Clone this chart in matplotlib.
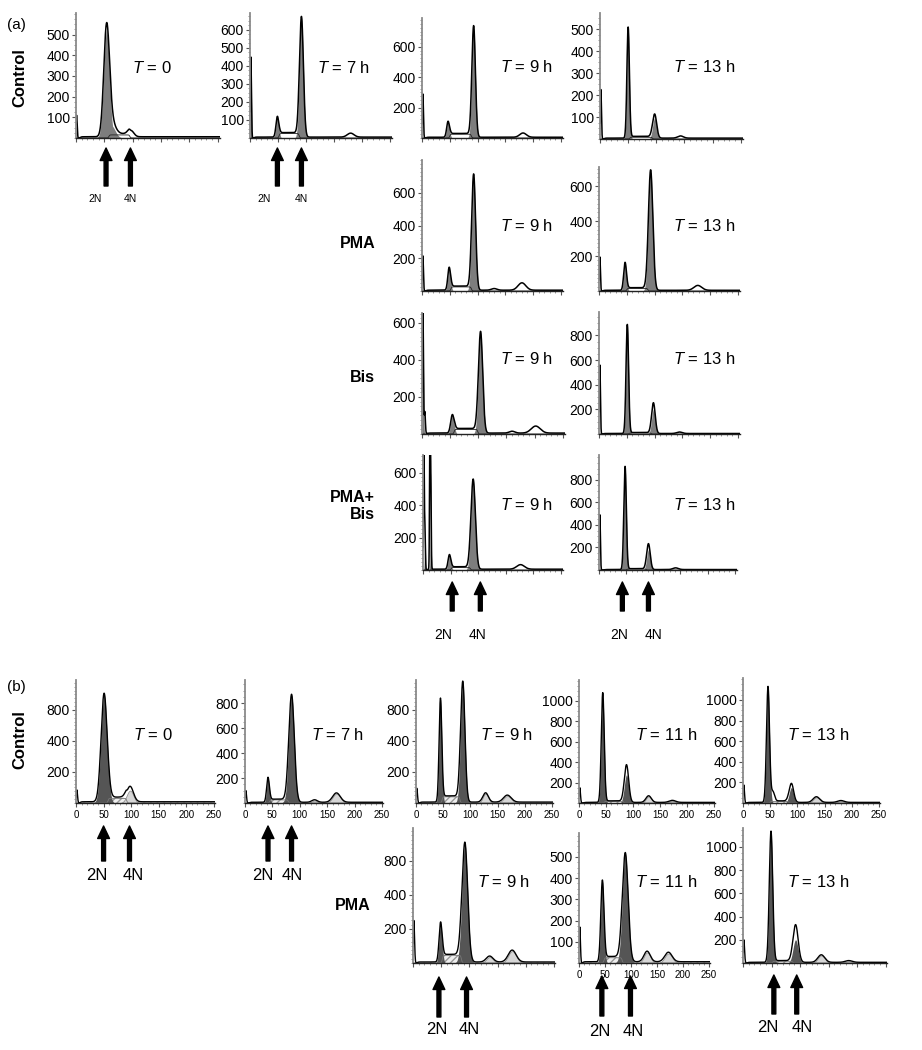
import numpy as np
import matplotlib
matplotlib.use('Agg')
import matplotlib.pyplot as plt
from matplotlib.ticker import MultipleLocator, AutoMinorLocator, FixedLocator
from matplotlib.transforms import blended_transform_factory

plt.rcParams['font.family'] = ['Liberation Sans', 'DejaVu Sans']
plt.rcParams['mathtext.fontset'] = 'custom'
plt.rcParams['mathtext.it'] = 'Liberation Sans:italic'
plt.rcParams['mathtext.rm'] = 'Liberation Sans'

# ---------------------------------------------------------------- data
# peaks: (channel, height, sigma, kind)  kind: d=debris line, g=G1/G2 fill,
#        o=outline only, l=light fill ; bg: (S start, S end, S level, tail level)
a_ctrl_0 = [(1, 110, 1.0, 'd'), (54, 520, 5.0, 'g'), (62, 60, 7, 'g'), (97, 30, 5, 'o')]
a_ctrl_0_bg = (58, 95, 15, 6)
a_ctrl_7 = [(1.5, 450, 1.0, 'g'), (49, 115, 2.5, 'g'), (92, 670, 3.5, 'g'), (180, 22, 6, 'o')]
a_ctrl_7_bg = (52, 88, 25, 5)
a_ctrl_9 = [(1.5, 290, 1.0, 'd'), (47, 105, 2.5, 'g'), (93, 735, 3.2, 'g'), (182, 28, 6, 'o')]
a_ctrl_9_bg = (50, 89, 25, 5)
a_ctrl_13 = [(1.5, 225, 1.0, 'd'), (50, 505, 2.2, 'g'), (97, 95, 3.5, 'g'), (97, 15, 4, 'o'), (143, 10, 5, 'o')]
a_ctrl_13_bg = (53, 93, 8, 4)
a_pma_9 = [(1.5, 215, 1.0, 'd'), (49, 140, 2.5, 'g'), (93, 710, 3.5, 'g'), (130, 10, 5, 'o'), (180, 45, 7, 'o')]
a_pma_9_bg = (52, 89, 25, 5)
a_pma_13 = [(1.5, 195, 1.0, 'd'), (47, 160, 2.5, 'g'), (93, 690, 4.0, 'g'), (178, 28, 7, 'o')]
a_pma_13_bg = (50, 88, 15, 4)
a_bis_9 = [(1.5, 700, 1.0, 'g'), (5, 120, 1.0, 'd'), (54, 100, 3, 'g'), (104, 550, 3.8, 'g'), (160, 10, 5, 'o'), (202, 38, 8, 'o')]
a_bis_9_bg = (57, 99, 25, 5)
a_bis_13 = [(1.5, 560, 1.0, 'd'), (51, 885, 2.3, 'g'), (98, 200, 3.2, 'g'), (98, 50, 3.5, 'o'), (145, 12, 5, 'o')]
a_bis_13_bg = (54, 94, 8, 4)
a_pb_9 = [(1.5, 800, 0.8, 'd'), (3.5, 250, 0.8, 'g'), (12.5, 800, 0.7, 'd'), (14, 600, 0.8, 'g'),
          (48, 90, 2.5, 'g'), (91, 555, 4.0, 'g'), (177, 28, 7, 'o')]
a_pb_9_bg = (51, 86, 15, 5)
a_pb_13 = [(1.5, 490, 1.0, 'd'), (48, 915, 2.3, 'g'), (91, 180, 3.2, 'g'), (91, 50, 3.5, 'o'), (141, 15, 5, 'o')]
a_pb_13_bg = (51, 87, 8, 4)

b_ctrl_0 = [(1.5, 85, 1.2, 'd'), (51, 700, 5.5, 'g'), (98, 80, 6, 'l'), (98, 20, 6, 'o')]
b_ctrl_0_bg = (58, 92, 30, 8)
b_ctrl_7 = [(1.5, 100, 1.2, 'd'), (42, 200, 2.5, 'g'), (85, 865, 5.0, 'g'), (127, 20, 5, 'l'), (167, 75, 7, 'l')]
b_ctrl_7_bg = (45, 79, 25, 6)
b_ctrl_9 = [(1.5, 95, 1.2, 'd'), (45, 670, 2.5, 'g'), (86, 780, 4.0, 'g'), (128, 60, 5, 'l'), (168, 45, 7, 'l')]
b_ctrl_9_bg = (48, 81, 40, 6)
b_ctrl_11 = [(1.5, 150, 1.2, 'd'), (44, 1075, 2.7, 'g'), (88, 275, 4.0, 'g'), (88, 95, 4, 'o'), (129, 65, 5, 'l'), (173, 20, 6, 'l')]
b_ctrl_11_bg = (47, 83, 15, 6)
b_ctrl_13 = [(1.5, 175, 1.2, 'd'), (46, 1125, 2.8, 'g'), (55, 90, 3, 'o'), (89, 150, 4.0, 'g'), (89, 35, 4.5, 'o'),
             (135, 55, 6, 'l'), (180, 18, 6, 'l')]
b_ctrl_13_bg = (50, 84, 15, 6)
b_pma_9 = [(1.5, 250, 1.2, 'd'), (49, 235, 2.7, 'g'), (92, 705, 5.0, 'g'), (136, 35, 6, 'l'), (176, 70, 7, 'l')]
b_pma_9_bg = (52, 86, 45, 6)
b_pma_11 = [(1.5, 170, 1.2, 'd'), (45, 385, 3.0, 'g'), (89, 515, 5.5, 'g'), (131, 50, 6, 'l'), (172, 45, 7, 'l')]
b_pma_11_bg = (48, 83, 25, 6)
b_pma_13 = [(1.5, 200, 1.2, 'd'), (49, 1130, 3.0, 'g'), (92, 200, 4.5, 'g'), (92, 125, 4.5, 'o'), (137, 65, 6, 'l'), (185, 15, 6, 'l')]
b_pma_13_bg = (52, 87, 15, 6)

# axis ticks
ticks_a100_500 = [100, 200, 300, 400, 500]
ticks_a100_600 = [100, 200, 300, 400, 500, 600]
ticks_200_600 = [200, 400, 600]
ticks_200_800 = [200, 400, 600, 800]
ticks_200_1000 = [200, 400, 600, 800, 1000]
ticks_100_500 = [100, 200, 300, 400, 500]
labels_200_400_800 = ['200', '400', '800']
xticks_b = [0, 50, 100, 150, 200, 250]

# ---------------------------------------------------------------- figure
W, H = 922, 1050
fig = plt.figure(figsize=(W / 100, H / 100), dpi=100)

DARK_A = '#7d7d7d'
DARK_B = '#555555'
LIGHT = '#d6d6d6'


def add_ax(x0, x1, top, base):
    return fig.add_axes([x0 / W, 1 - base / H, (x1 - x0) / W, (base - top) / H])


def draw(ax, peaks, bg, xmax, ymax, yticks, ylabels, panel_b, show_x):
    x = np.linspace(0, xmax, 1500)
    s0, s1, slev, tail = bg
    S = slev * 0.5 * (np.tanh((x - s0) / 1.5) - np.tanh((x - s1) / 1.5))
    T = tail * 0.5 * (1 + np.tanh((x - 8) / 2.0))
    total = S + T
    comps = []
    for c, h, w, k in peaks:
        g = h * np.exp(-0.5 * ((x - c) / w) ** 2)
        total = total + g
        comps.append((g, k))
    if panel_b:
        ax.fill_between(x, 0, S + T * 0.5, facecolor='#efefef', edgecolor='#9a9a9a',
                        hatch='/////', linewidth=0)
        ax.plot(x, S, color='#777', lw=0.6)
    else:
        ax.plot(x, S, color='#222', lw=0.6)
    for g, k in comps:
        if k == 'g':
            ax.fill_between(x, 0, g, color=DARK_B if panel_b else DARK_A, lw=0)
        elif k == 'l':
            ax.fill_between(x, 0, g, facecolor=LIGHT, edgecolor='#888', lw=0.5)
    ax.plot(x, total, color='k', lw=1.1 if not panel_b else 1.0)
    ax.set_xlim(0, xmax)
    ax.set_ylim(0, ymax)
    for s in ['top', 'right']:
        ax.spines[s].set_visible(False)
    ax.spines['left'].set_color('#8a8a8a')
    ax.spines['left'].set_linewidth(1.3)
    ax.spines['bottom'].set_color('#222')
    ax.spines['bottom'].set_linewidth(1.0)
    ax.yaxis.set_major_locator(FixedLocator(yticks))
    ax.set_yticklabels(ylabels if ylabels is not None else [str(t) for t in yticks])
    ax.yaxis.set_minor_locator(MultipleLocator(25 if ymax < 900 else 50))
    ax.xaxis.set_major_locator(MultipleLocator(50))
    ax.xaxis.set_minor_locator(MultipleLocator(10))
    ax.tick_params(which='major', length=3, width=0.8, color='#555', labelsize=10, pad=1.5)
    ax.tick_params(which='minor', length=1.5, width=0.6, color='#888')
    ax.tick_params(axis='x', labelsize=7, pad=2, labelbottom=show_x)
    if show_x:
        ax.set_xticks(xticks_b)


def tlabel(x, y, text):
    fig.text(x / W, 1 - y / H, text, fontsize=12, ha='left', va='center')


def arrows(ax, items, y_head, y_tail, y_lab, fs):
    tr = blended_transform_factory(ax.transData, fig.transFigure)
    for ch, lab_ch, lab in items:
        ax.annotate('', xy=(ch, 1 - y_head / H), xytext=(ch, 1 - y_tail / H),
                    xycoords=tr, textcoords=tr, annotation_clip=False,
                    arrowprops=dict(facecolor='k', edgecolor='k', width=2.8,
                                    headwidth=8.5, headlength=9, shrink=0))
        ax.text(lab_ch, 1 - y_lab / H, lab, transform=tr, ha='center', va='center',
                fontsize=fs, clip_on=False)


XA = 254
XB = 252

# ---------------- panel (a)
ax = add_ax(76, 220, 13, 138)
draw(ax, a_ctrl_0, a_ctrl_0_bg, XA, 604, ticks_a100_500, None, False, False)
arrows(ax, [(53, 34, '2N'), (96, 96, '4N')], 148, 186, 199, 7.5)
tlabel(132, 68, r'$T$ = 0')

ax = add_ax(250, 392, 13, 138)
draw(ax, a_ctrl_7, a_ctrl_7_bg, XA, 694, ticks_a100_600, None, False, False)
arrows(ax, [(49, 25, '2N'), (92, 92, '4N')], 148, 186, 199, 7.5)
tlabel(317, 68, r'$T$ = 7 h')

ax = add_ax(422, 563, 18, 138)
draw(ax, a_ctrl_9, a_ctrl_9_bg, XA, 790, ticks_200_600, None, False, False)
tlabel(500, 67, r'$T$ = 9 h')

ax = add_ax(600, 743, 13, 139)
draw(ax, a_ctrl_13, a_ctrl_13_bg, XA, 573, ticks_a100_500, None, False, False)
tlabel(673, 67, r'$T$ = 13 h')

ax = add_ax(422, 563, 160, 291)
draw(ax, a_pma_9, a_pma_9_bg, XA, 800, ticks_200_600, None, False, False)
tlabel(500, 226, r'$T$ = 9 h')

ax = add_ax(599, 740, 167, 291)
draw(ax, a_pma_13, a_pma_13_bg, XA, 710, ticks_200_600, None, False, False)
tlabel(673, 226, r'$T$ = 13 h')

ax = add_ax(422, 565, 313, 434)
draw(ax, a_bis_9, a_bis_9_bg, XA, 654, ticks_200_600, None, False, False)
tlabel(500, 359, r'$T$ = 9 h')

ax = add_ax(599, 740, 312, 434)
draw(ax, a_bis_13, a_bis_13_bg, XA, 990, ticks_200_800, None, False, False)
tlabel(673, 359, r'$T$ = 13 h')

ax = add_ax(423, 563, 455, 570)
draw(ax, a_pb_9, a_pb_9_bg, XA, 708, ticks_200_600, None, False, False)
arrows(ax, [(53, 37, '2N'), (104, 99, '4N')], 582, 611, 635, 10)
tlabel(500, 505, r'$T$ = 9 h')

ax = add_ax(599, 737, 455, 570)
draw(ax, a_pb_13, a_pb_13_bg, XA, 1020, ticks_200_800, None, False, False)
arrows(ax, [(43, 37, '2N'), (91, 100, '4N')], 582, 611, 635, 10)
tlabel(673, 505, r'$T$ = 13 h')

fig.text(7 / W, 1 - 25 / H, '(a)', fontsize=11, ha='left', va='center')
fig.text(20 / W, 1 - 78 / H, 'Control', fontsize=12, fontweight='bold', rotation=90,
         ha='center', va='center')
fig.text(375 / W, 1 - 243 / H, 'PMA', fontsize=11.5, fontweight='bold', ha='right', va='center')
fig.text(375 / W, 1 - 378 / H, 'Bis', fontsize=11.5, fontweight='bold', ha='right', va='center')
fig.text(375 / W, 1 - 506 / H, 'PMA+\nBis', fontsize=11.5, fontweight='bold', ha='right',
         va='center', multialignment='right', linespacing=1.1)

# ---------------- panel (b)
ax = add_ax(76, 215, 680, 803)
draw(ax, b_ctrl_0, b_ctrl_0_bg, XB, 793, ticks_200_600, labels_200_400_800, True, True)
arrows(ax, [(50, 38, '2N'), (97, 104, '4N')], 826, 861, 876, 12)
tlabel(133, 735, r'$T$ = 0')

ax = add_ax(245, 383, 680, 803)
draw(ax, b_ctrl_7, b_ctrl_7_bg, XB, 985, ticks_200_800, None, True, True)
arrows(ax, [(42, 33, '2N'), (85, 87, '4N')], 826, 861, 876, 12)
tlabel(311, 735, r'$T$ = 7 h')

ax = add_ax(416, 553, 680, 803)
draw(ax, b_ctrl_9, b_ctrl_9_bg, XB, 793, ticks_200_600, labels_200_400_800, True, True)
tlabel(480, 735, r'$T$ = 9 h')

ax = add_ax(579, 715, 680, 803)
draw(ax, b_ctrl_11, b_ctrl_11_bg, XB, 1205, ticks_200_1000, None, True, True)
tlabel(635, 735, r'$T$ = 11 h')

ax = add_ax(743, 880, 678, 803)
draw(ax, b_ctrl_13, b_ctrl_13_bg, XB, 1213, ticks_200_1000, None, True, True)
tlabel(787, 735, r'$T$ = 13 h')

ax = add_ax(413, 555, 828, 963)
draw(ax, b_pma_9, b_pma_9_bg, XB, 794, ticks_200_600, labels_200_400_800, True, False)
arrows(ax, [(46, 42, '2N'), (95, 99, '4N')], 977, 1017, 1030, 12)
tlabel(477, 882, r'$T$ = 9 h')

ax = add_ax(579, 710, 833, 963)
draw(ax, b_pma_11, b_pma_11_bg, XB, 613, ticks_100_500, None, True, True)
arrows(ax, [(44, 40, '2N'), (99, 105, '4N')], 976, 1016, 1032, 12)
tlabel(635, 882, r'$T$ = 11 h')

ax = add_ax(743, 887, 828, 963)
draw(ax, b_pma_13, b_pma_13_bg, XB, 1163, ticks_200_1000, None, True, False)
arrows(ax, [(54, 43, '2N'), (94, 104, '4N')], 975, 1014, 1028, 12)
tlabel(787, 882, r'$T$ = 13 h')

fig.text(7 / W, 1 - 687 / H, '(b)', fontsize=11, ha='left', va='center')
fig.text(20 / W, 1 - 740 / H, 'Control', fontsize=12, fontweight='bold', rotation=90,
         ha='center', va='center')
fig.text(370 / W, 1 - 905 / H, 'PMA', fontsize=11.5, fontweight='bold', ha='right', va='center')

fig.savefig('out.png', dpi=100, facecolor='white')
